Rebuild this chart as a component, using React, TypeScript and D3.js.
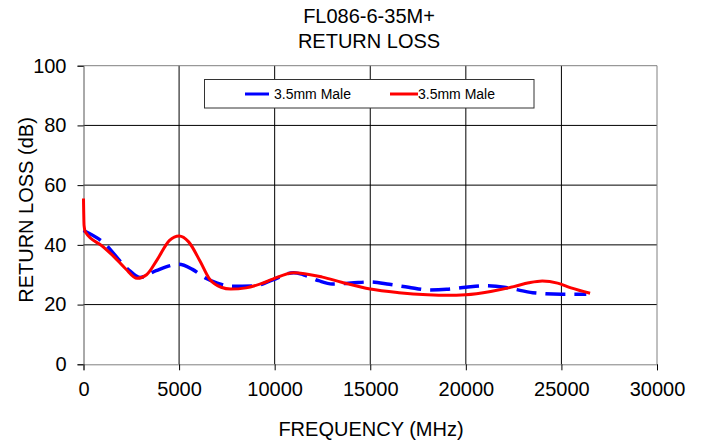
import React, { useEffect, useRef } from 'react';
import * as d3 from 'd3';

// Return loss data (MHz, dB)
const blueFreq = [0, 1000, 2300, 2950, 3800, 5000, 5700, 6400, 7000, 7800, 8900, 9900, 11000, 11500, 12300, 13000, 14000, 15000, 16000, 17000, 18100, 19000, 20000, 21000, 22000, 22500, 23500, 25000, 26300];
const blueLoss = [44.8, 41, 32, 29.1, 31.4, 33.5, 31.8, 28.8, 27.2, 26.1, 26.2, 28.3, 30.7, 30, 28, 26.9, 27.2, 27.6, 26.8, 25.8, 24.9, 25.1, 25.8, 26.3, 25.8, 25.2, 24, 23.5, 23.5];

const redFreq = [0, 30, 100, 1000, 1600, 2200, 2800, 3300, 3850, 4500, 5000, 5500, 6100, 6600, 7200, 7700, 8500, 9300, 9900, 11000, 12500, 13500, 15000, 16500, 18000, 19000, 20000, 21300, 22500, 23300, 24000, 24800, 25500, 26500];
const redLoss = [55.5, 46.5, 44.3, 39.5, 36, 32, 28.8, 30, 35, 41.5, 43, 41, 34.5, 28.5, 25.8, 25.2, 25.6, 27, 28.5, 30.7, 29.2, 27.5, 25.2, 24, 23.3, 23.1, 23.3, 24.4, 26, 27.3, 27.9, 27.2, 25.6, 23.8];

const xTicks = [0, 5000, 10000, 15000, 20000, 25000, 30000];
const yTicks = [0, 20, 40, 60, 80, 100];
const titleLines = ['FL086-6-35M+', 'RETURN LOSS'];
const seriesNames = ['3.5mm Male', '3.5mm Male'];

const FONT = '"Liberation Sans", Arial, sans-serif';

const App: React.FC = () => {
  const svgRef = useRef<SVGSVGElement>(null);

  useEffect(() => {
    document.body.style.margin = '0';
    if (!svgRef.current) return;
    const svg = d3.select(svgRef.current);
    svg.selectAll('*').remove();

    const width = 701, height = 443;
    const x = d3.scaleLinear().domain([0, 30000]).range([83.5, 657]);
    const y = d3.scaleLinear().domain([0, 100]).range([364.3, 65.7]);

    svg.append('rect').attr('width', width).attr('height', height).attr('fill', '#fff');

    // title
    titleLines.forEach((t, i) => {
      svg.append('text')
        .attr('x', 369).attr('y', 23 + i * 25)
        .attr('text-anchor', 'middle')
        .attr('font-family', FONT).attr('font-size', 20)
        .attr('fill', '#000')
        .text(t);
    });

    // grid
    const grid = svg.append('g');
    xTicks.slice(1, -1).forEach(v => {
      grid.append('line')
        .attr('x1', x(v)).attr('x2', x(v)).attr('y1', y(100)).attr('y2', y(0))
        .attr('stroke', '#000').attr('stroke-width', 1);
    });
    yTicks.slice(1, -1).forEach(v => {
      grid.append('line')
        .attr('x1', x(0)).attr('x2', x(30000)).attr('y1', y(v)).attr('y2', y(v))
        .attr('stroke', '#000').attr('stroke-width', 1);
    });
    // plot border
    grid.append('line').attr('x1', x(0)).attr('x2', x(30000)).attr('y1', y(100)).attr('y2', y(100))
      .attr('stroke', '#808080');
    grid.append('line').attr('x1', x(30000)).attr('x2', x(30000)).attr('y1', y(100)).attr('y2', y(0))
      .attr('stroke', '#808080');

    // axes
    const xAxis = svg.append('g').attr('transform', `translate(0,${y(0)})`)
      .call(d3.axisBottom(x).tickValues(xTicks).tickSize(6).tickPadding(12).tickFormat(d3.format('d')));
    const yAxis = svg.append('g').attr('transform', `translate(${x(0)},0)`)
      .call(d3.axisLeft(y).tickValues(yTicks).tickSize(6).tickPadding(11).tickFormat(d3.format('d')));
    [xAxis, yAxis].forEach(a => {
      a.select('.domain').attr('stroke', '#000');
      a.selectAll('.tick line').attr('stroke', '#000');
      a.selectAll('text').attr('font-family', FONT).attr('font-size', 20).attr('fill', '#000');
    });
    xAxis.select('.domain').attr('stroke', '#808080');
    yAxis.select('.domain').attr('stroke', '#555');

    // axis titles
    svg.append('text')
      .attr('x', 371).attr('y', 436)
      .attr('text-anchor', 'middle')
      .attr('font-family', FONT).attr('font-size', 20)
      .text('FREQUENCY (MHz)');
    svg.append('text')
      .attr('transform', `translate(33,210) rotate(-90)`)
      .attr('text-anchor', 'middle')
      .attr('font-family', FONT).attr('font-size', 20)
      .text('RETURN LOSS (dB)');

    // legend
    const lg = svg.append('g');
    lg.append('rect').attr('x', 204.5).attr('y', 79.5).attr('width', 329.5).attr('height', 28.5)
      .attr('fill', '#fff').attr('stroke', '#333').attr('stroke-width', 1);
    lg.append('line').attr('x1', 245).attr('x2', 269).attr('y1', 94).attr('y2', 94)
      .attr('stroke', '#0000ff').attr('stroke-width', 3);
    lg.append('text').attr('x', 274).attr('y', 99).attr('font-family', FONT).attr('font-size', 14)
      .text(seriesNames[0]);
    lg.append('line').attr('x1', 390).attr('x2', 418).attr('y1', 94).attr('y2', 94)
      .attr('stroke', '#ff0000').attr('stroke-width', 3);
    lg.append('text').attr('x', 418).attr('y', 99).attr('font-family', FONT).attr('font-size', 14)
      .text(seriesNames[1]);

    // series
    const line = d3.line<[number, number]>()
      .x(d => x(d[0]))
      .y(d => y(d[1]))
      .curve(d3.curveMonotoneX);

    const blue = blueFreq.map((f, i) => [f, blueLoss[i]] as [number, number]);
    const red = redFreq.map((f, i) => [f, redLoss[i]] as [number, number]);

    svg.append('path')
      .attr('d', line(blue) || '')
      .attr('fill', 'none')
      .attr('stroke', '#0000ff')
      .attr('stroke-width', 3.5)
      .attr('stroke-dasharray', '20,9');

    svg.append('path')
      .attr('d', line(red) || '')
      .attr('fill', 'none')
      .attr('stroke', '#ff0000')
      .attr('stroke-width', 3)
      .attr('stroke-linejoin', 'round');
  }, []);

  return <svg ref={svgRef} width={701} height={443} style={{ display: 'block' }} />;
};

export default App;
